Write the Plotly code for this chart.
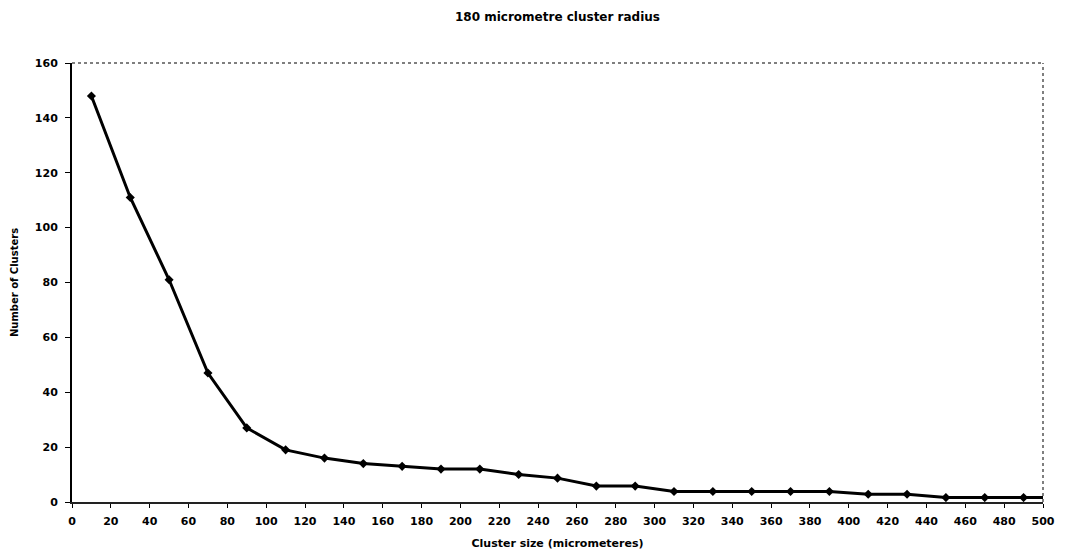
import plotly.graph_objects as go

cluster_size = [10, 30, 50, 70, 90, 110, 130, 150, 170, 190, 210, 230, 250,
                270, 290, 310, 330, 350, 370, 390, 410, 430, 450, 470, 490, 510]
num_clusters = [148, 111, 81, 47, 27, 19, 16, 14, 13, 12, 12, 10, 8.7,
                5.8, 5.8, 3.8, 3.8, 3.8, 3.8, 3.8, 2.8, 2.8, 1.6, 1.6, 1.6, 1.6]
x_ticks = list(range(0, 501, 20))
y_ticks = list(range(0, 161, 20))

FONT = "DejaVu Sans, Liberation Sans, Arial, sans-serif"

fig = go.Figure()
fig.add_trace(go.Scatter(
    x=cluster_size, y=num_clusters, mode="lines+markers",
    line=dict(color="black", width=3),
    marker=dict(symbol="diamond", size=7, color="black"),
    cliponaxis=True, showlegend=False,
))

fig.update_layout(
    width=1065, height=558,
    margin=dict(l=72, r=22, t=63, b=56),
    paper_bgcolor="white", plot_bgcolor="white",
    font=dict(family=FONT, color="black", size=10),
    title=dict(text="<b>180 micrometre cluster radius</b>", x=0.5, xref="paper",
               y=1 - 17 / 558, yanchor="middle", font=dict(size=12, family=FONT)),
    xaxis=dict(range=[0, 500], tickvals=x_ticks, showgrid=False, zeroline=False,
               showline=True, linecolor="#222", linewidth=1.5, automargin=False,
               ticks="outside", ticklen=4, tickcolor="black", tickwidth=1,
               ticklabelstandoff=4,
               tickfont=dict(size=11, family=FONT, weight="bold"),
               title=dict(text="<b>Cluster size (micrometeres)</b>", standoff=12,
                          font=dict(size=11, family=FONT))),
    yaxis=dict(range=[0, 160], tickvals=y_ticks, showgrid=False, zeroline=False,
               showline=True, linecolor="black", linewidth=2, automargin=False,
               ticks="outside", ticklen=5, tickcolor="black", tickwidth=1,
               ticklabelstandoff=5,
               tickfont=dict(size=11, family=FONT, weight="bold"),
               title=dict(text="<b>Number of Clusters</b>", standoff=14,
                          font=dict(size=10, family=FONT))),
    shapes=[
        dict(type="line", xref="paper", yref="paper", x0=0, x1=1, y0=1, y1=1,
             line=dict(color="#555", width=1.5, dash="dot")),
        dict(type="line", xref="paper", yref="paper", x0=1, x1=1, y0=0, y1=1,
             line=dict(color="#555", width=1.5, dash="dot")),
    ],
)

fig.write_html("out.html")
